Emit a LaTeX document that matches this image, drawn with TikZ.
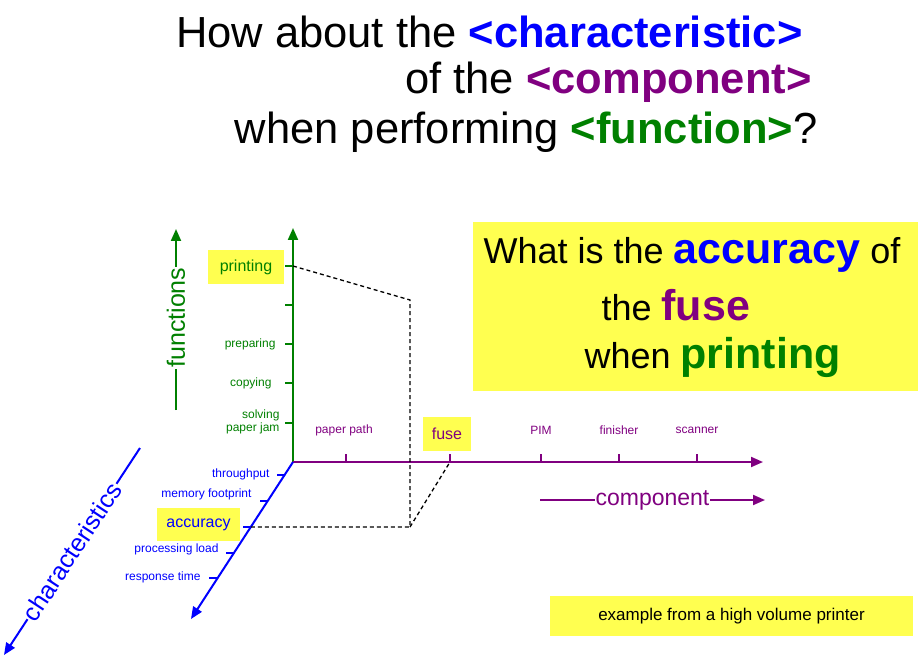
\documentclass[tikz,border=0pt]{standalone}
\usepackage{fontspec}
\setmainfont{Liberation Sans}
\usetikzlibrary{arrows.meta}
\definecolor{gr}{RGB}{0,128,0}
\definecolor{pu}{RGB}{128,0,128}
\definecolor{bl}{RGB}{0,0,255}
\definecolor{ye}{RGB}{255,255,80}
\begin{document}
\begin{tikzpicture}[x=1pt,y=-1pt,
 ax/.style={line width=2pt,-{Triangle[length=12pt,width=10pt]}},
 tk/.style={line width=1.5pt},
 fl/.style={text=gr,font=\fontsize{12}{13}\selectfont,anchor=east,align=right},
 cl/.style={text=pu,font=\fontsize{12}{13}\selectfont},
 hl/.style={text=bl,font=\fontsize{12}{13}\selectfont,anchor=east},
 yb/.style={fill=ye,inner sep=0pt},
 tt/.style={anchor=east,font=\fontsize{43.5}{46}\selectfont},
 bb/.style={font=\fontsize{36}{38}\selectfont},
 dsh/.style={line width=1.3pt,dash pattern=on 4pt off 3pt}]
\useasboundingbox (0,0) rectangle (920,660);
% title
\node[tt] (t1) at (806,32) {How about the \textcolor{bl}{\textbf{<characteristic>}}};
\node[tt] (t2) at (815,82) {of the \textcolor{pu}{\textbf{<component>}}};
\node[tt] (t3) at (821,132) {when performing \textcolor{gr}{\textbf{<function>}}?};
% big box
\node[yb,minimum width=445pt,minimum height=169pt] (box) at (695.5,306.5) {};
\node[bb] (b1) at (692,255) {What is the \textcolor{bl}{\textbf{\fontsize{43}{45}\selectfont accuracy}} of};
\node[bb,anchor=west] (b2) at (598,305) {the \textcolor{pu}{\textbf{\fontsize{43}{45}\selectfont fuse}}};
\node[bb,anchor=west] (b3) at (581,357) {when \textcolor{gr}{\textbf{\fontsize{43}{45}\selectfont printing}}};
\node[yb,minimum width=363pt,minimum height=40pt,font=\fontsize{17}{19}\selectfont] (ex) at (731.5,616) {example from a high volume printer};
% axes
\coordinate (O) at (293,462);
\coordinate (fu) at (293,228);
\coordinate (co) at (763,462);
\coordinate (ch) at (191,619);
\draw[ax,gr] (O) -- (fu);
\draw[ax,pu] (O) -- (co);
\draw[ax,bl] (O) -- (ch);
% function ticks
\foreach \y/\n in {266/f1,305/f2,344/f3,383/f4,423/f5}{
 \coordinate (\n) at (293,\y);
 \draw[tk,gr] (\n) -- ++(-8,0);}
\node[yb,minimum width=76pt,minimum height=34pt,text=gr,font=\fontsize{16}{18}\selectfont] (printing) at (246,267) {printing};
\node[fl] (prep) at (279,344) {preparing};
\node[fl] (copy) at (275,383) {copying};
\node[fl] (solv) at (283,422) {solving\\paper jam};
% component ticks
\foreach \x/\n in {346/c1,450/c2,541/c3,619/c4,697/c5}{
 \coordinate (\n) at (\x,462);
 \draw[tk,pu] (\n) -- ++(0,-8);}
\node[cl] (pp) at (344,430) {paper path};
\node[yb,minimum width=48pt,minimum height=34pt,text=pu,font=\fontsize{16}{18}\selectfont] (fuse) at (447,434) {fuse};
\node[cl] (pim) at (541,430) {PIM};
\node[cl] (fin) at (619,430) {finisher};
\node[cl] (scan) at (697,430) {scanner};
% characteristic ticks
\foreach \y/\n in {475/h1,501/h2,527/h3,553/h4,578/h5}{
 \coordinate (\n) at ({293-0.652*(\y-462)},\y);
 \draw[tk,bl] (\n) -- ++(-8,0);}
\node[hl] (thr) at (273,474) {throughput};
\node[hl] (mem) at (255,494) {memory footprint};
\node[yb,minimum width=83pt,minimum height=33pt,text=bl,font=\fontsize{16}{18}\selectfont] (acc) at (198.5,524.5) {accuracy};
\node[hl] (proc) at (222,549) {processing load};
\node[hl] (resp) at (204,577) {response time};
% dashed
\coordinate (k1) at (410,300);
\coordinate (k2) at (410,527);
\draw[dsh] (f1) -- (k1) -- (k2) -- (h3);
\draw[dsh] (k2) -- (c2);
% axis labels
\coordinate (fa) at (176,410);
\coordinate (fb) at (176,229);
\draw[line width=2pt,gr,-{Triangle[length=12pt,width=10pt]}] (fa) -- (fb) node[pos=0.51,sloped,fill=white,inner sep=1pt,font=\fontsize{25}{27}\selectfont,text=gr] (fl) {functions};
\coordinate (ca) at (140,448);
\coordinate (cb) at (4,655);
\draw[line width=2pt,bl,-{Triangle[length=12pt,width=10pt]}] (ca) -- (cb) node[pos=0.5,sloped,fill=white,inner sep=1pt,font=\fontsize{25}{27}\selectfont,text=bl] (chl) {characteristics};
\coordinate (pa) at (540,500);
\coordinate (pb) at (765,500);
\draw[line width=2pt,pu,-{Triangle[length=12pt,width=10pt]}] (pa) -- (pb) node[pos=0.5,fill=white,inner sep=1pt,font=\fontsize{23}{25}\selectfont,text=pu] (cpl) {component};
\end{tikzpicture}
\end{document}
